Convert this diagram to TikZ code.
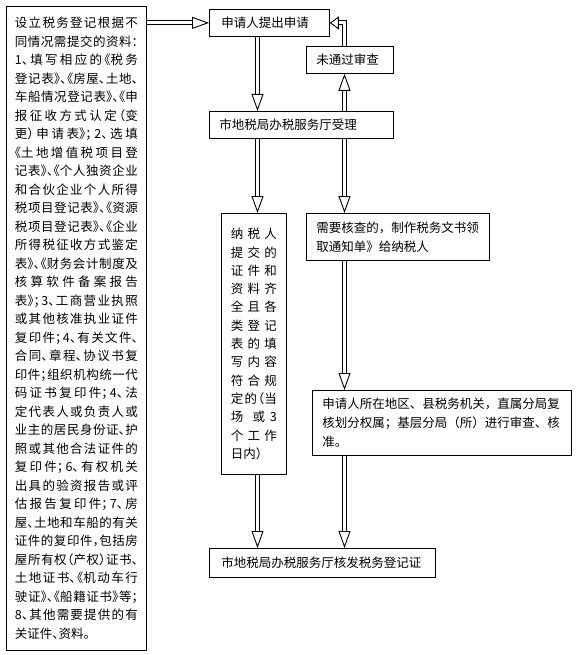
\documentclass[tikz,border=0pt]{standalone}
\usepackage{fontspec}
\setmainfont{Noto Sans CJK SC}
\newfontfamily\halffont[RawFeature=+halt]{Noto Sans CJK SC}
\usetikzlibrary{arrows.meta}
\XeTeXlinebreaklocale "zh"
\XeTeXlinebreakskip=0pt plus 6pt
\hbadness=10000
\tikzstyle{box} = [rectangle, draw=black, line width=0.8pt, inner sep=0pt, anchor=north west, font={\fontsize{12.5}{18.5}\selectfont}]
\tikzstyle{arrow} = [double=white, double distance=3pt, line width=1pt, -{Triangle[open, length=17pt, width=12pt, line width=0.9pt]}]

\begin{document}
\begin{tikzpicture}[x=1pt, y=-1pt]
    \useasboundingbox (0,0) rectangle (575,655);
    % Nodes
    \node (docs) [box, minimum width=140pt, minimum height=644pt, text width=123pt, align=justify] at (6,6) {\halffont
        设立税务登记根据不\linebreak
        同情况需提交的资料：\linebreak
        1、填写相应的《税务\linebreak
        登记表》、《房屋、土地、\linebreak
        车船情况登记表》、《申\linebreak
        报征收方式认定（变\linebreak
        更）申请表》；2、选填\linebreak
        《土地增值税项目登\linebreak
        记表》、《个人独资企业\linebreak
        和合伙企业个人所得\linebreak
        税项目登记表》、《资源\linebreak
        税项目登记表》、《企业\linebreak
        所得税征收方式鉴定\linebreak
        表》、《财务会计制度及\linebreak
        核算软件备案报告\linebreak
        表》；3、工商营业执照\linebreak
        或其他核准执业证件\linebreak
        复印件；4、有关文件、\linebreak
        合同、章程、协议书复\linebreak
        印件；组织机构统一代\linebreak
        码证书复印件；4、法\linebreak
        定代表人或负责人或\linebreak
        业主的居民身份证、护\linebreak
        照或其他合法证件的\linebreak
        复印件；6、有权机关\linebreak
        出具的验资报告或评\linebreak
        估报告复印件；7、房\linebreak
        屋、土地和车船的有关\linebreak
        证件的复印件，包括房\linebreak
        屋所有权（产权）证书、\linebreak
        土地证书、《机动车行\linebreak
        驶证》、《船籍证书》等；\linebreak
        8、其他需要提供的有\linebreak
        关证件、资料。};
    \node (apply) [box, minimum width=120pt, minimum height=27pt, text width=96pt, align=left] at (209,9) {申请人提出申请};
    \node (fail) [box, minimum width=87pt, minimum height=27pt, text width=67pt, align=left] at (306,46) {未通过审查};
    \node (accept) [box, minimum width=184pt, minimum height=27pt, text width=164pt, align=left] at (209,111) {市地税局办税服务厅受理};
    \node (cond) [box, minimum width=65pt, minimum height=261pt, text width=46pt, align=justify, font={\fontsize{12.5}{18.3}\selectfont}] at (221,213) {\halffont
        纳税人\linebreak
        提交的\linebreak
        证件和\linebreak
        资料齐\linebreak
        全且各\linebreak
        类登记\linebreak
        表的填\linebreak
        写内容\linebreak
        符合规\linebreak
        定的（当\linebreak
        场或 3\linebreak
        个工作\linebreak
        日内）};
    \node (check) [box, minimum width=183pt, minimum height=47pt, text width=163pt, align=left, font={\fontsize{12.5}{19}\selectfont}] at (306,213) {需要核查的，制作税务文书领\\取通知单》给纳税人};
    \node (region) [box, minimum width=259pt, minimum height=65pt, text width=239pt, align=left, font={\fontsize{12.5}{19}\selectfont}] at (312,390) {申请人所在地区、县税务机关，直属分局复\\核划分权属；基层分局（所）进行审查、核\\准。};
    \node (issue) [box, minimum width=226pt, minimum height=29pt, text width=202pt, align=left] at (209,548) {市地税局办税服务厅核发税务登记证};

    % Arrows
    \coordinate (lx) at (257.5,0);
    \coordinate (rx) at (344.5,0);
    \draw [arrow] (docs.east |- apply.west) -- (apply.west);
    \draw [arrow] (apply.south -| lx) -- (accept.north -| lx);
    \draw [arrow] (accept.north -| rx) -- (fail.south -| rx);
    \draw [arrow, -{Triangle[open, length=9pt, width=13pt, line width=0.9pt]}] (fail.north -| rx) |- (apply.east);
    \draw [arrow] (accept.south -| lx) -- (cond.north -| lx);
    \draw [arrow] (accept.south -| rx) -- (check.north -| rx);
    \draw [arrow] (check.south -| rx) -- (region.north -| rx);
    \draw [arrow] (cond.south -| lx) -- (issue.north -| lx);
    \draw [arrow] (region.south -| rx) -- (issue.north -| rx);
\end{tikzpicture}
\end{document}
